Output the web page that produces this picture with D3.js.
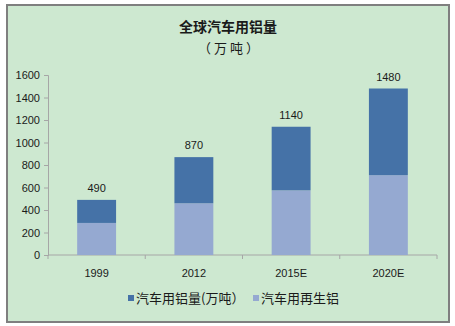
<!DOCTYPE html>
<html>
<head>
<meta charset="utf-8">
<script src="https://cdn.jsdelivr.net/npm/d3@7"></script>
<style>
  html, body { margin: 0; padding: 0; background: #fff; }
  svg text { font-family: "Noto Sans CJK SC", "DejaVu Sans", sans-serif; fill: #1a1a1a; }
</style>
</head>
<body>
<svg id="chart" width="455" height="326"></svg>
<script>
// Global automotive aluminium usage (10k tonnes)
const categories = ["1999", "2012", "2015E", "2020E"];
const totalUse = [490, 870, 1140, 1480];      // 汽车用铝量(万吨)
const recycledUse = [285, 460, 575, 710];     // 汽车用再生铝
const yTicks = [0, 200, 400, 600, 800, 1000, 1200, 1400, 1600];
const seriesNames = ["汽车用铝量(万吨）", "汽车用再生铝"];
const colors = { total: "#4572A7", recycled: "#95A9D1" };

const svg = d3.select("#chart");

// frame + background
svg.append("rect")
  .attr("x", 7).attr("y", 5).attr("width", 442).attr("height", 317)
  .attr("fill", "#CDE8D0").attr("stroke", "#7f7f7f").attr("stroke-width", 2);

// titles
svg.append("text").attr("x", 228).attr("y", 32).attr("text-anchor", "middle")
  .style("font-size", "14px").style("font-weight", "bold").text("全球汽车用铝量");
svg.append("text").attr("x", 230).attr("y", 53).attr("text-anchor", "middle")
  .style("font-size", "13px").style("letter-spacing", "3px").text("（万吨）");

const x = d3.scaleBand().domain(categories).range([48, 437]).paddingInner(0.6).paddingOuter(0.3);
const y = d3.scaleLinear().domain([0, 1600]).range([255, 75]);

// y axis
const yAxis = svg.append("g").attr("transform", "translate(48,0)")
  .call(d3.axisLeft(y).tickValues(yTicks).tickSize(4).tickPadding(4).tickFormat(d3.format("d")));
yAxis.select(".domain").attr("stroke", "#a6a6a6");
yAxis.selectAll(".tick line").attr("stroke", "#a6a6a6");
yAxis.selectAll("text").style("font-size", "11px").style("font-family", "'Liberation Sans', sans-serif");

// x axis with ticks between categories
const xAxisG = svg.append("g").attr("transform", "translate(0,255)");
xAxisG.append("line").attr("x1", 48).attr("x2", 437).attr("stroke", "#a6a6a6");
const bounds = d3.range(categories.length + 1).map(i => 48 + i * (389 / categories.length));
xAxisG.selectAll("line.tk").data(bounds).join("line").attr("class", "tk")
  .attr("x1", d => d).attr("x2", d => d).attr("y1", 0).attr("y2", 4).attr("stroke", "#a6a6a6");
xAxisG.selectAll("text").data(categories).join("text")
  .attr("x", d => x(d) + x.bandwidth() / 2).attr("y", 22).attr("text-anchor", "middle")
  .style("font-size", "11px").style("font-family", "'Liberation Sans', sans-serif").text(d => d);

// stacked bars: recycled at base, remainder of total above
const bars = svg.append("g");
categories.forEach((c, i) => {
  bars.append("rect")
    .attr("x", x(c)).attr("width", x.bandwidth())
    .attr("y", y(recycledUse[i])).attr("height", y(0) - y(recycledUse[i]))
    .attr("fill", colors.recycled);
  bars.append("rect")
    .attr("x", x(c)).attr("width", x.bandwidth())
    .attr("y", y(totalUse[i])).attr("height", y(recycledUse[i]) - y(totalUse[i]))
    .attr("fill", colors.total);
  bars.append("text")
    .attr("x", x(c) + x.bandwidth() / 2).attr("y", y(totalUse[i]) - 8)
    .attr("text-anchor", "middle")
    .style("font-size", "11px").style("font-family", "'Liberation Sans', sans-serif")
    .text(totalUse[i]);
});

// legend
const legend = svg.append("g").attr("transform", "translate(0,303)");
const legendItems = [
  { name: seriesNames[0], color: colors.total, x: 128 },
  { name: seriesNames[1], color: colors.recycled, x: 253 }
];
legendItems.forEach(d => {
  legend.append("rect").attr("x", d.x).attr("y", -8).attr("width", 6).attr("height", 6).attr("fill", d.color);
  legend.append("text").attr("x", d.x + 8).attr("y", 0)
    .style("font-size", "13px").text(d.name);
});
</script>
</body>
</html>
